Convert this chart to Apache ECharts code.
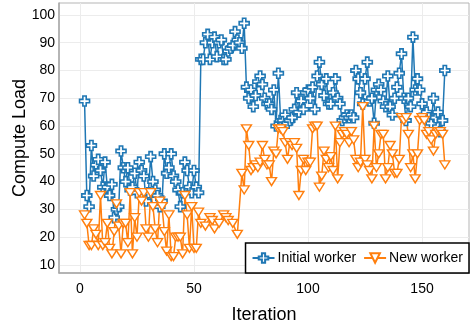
<!DOCTYPE html>
<html>
<head>
<meta charset="utf-8">
<script src="https://cdn.jsdelivr.net/npm/echarts@6/dist/echarts.min.js"></script>
<style>
html,body{margin:0;padding:0;background:#fff;}
#chart{width:471px;height:327px;}
</style>
</head>
<body>
<div id="chart"></div>
<script>
// Iterations start at 2 and run consecutively to 160
const firstIteration = 2;
const seriesNames = ['Initial worker', 'New worker'];
const xTicks = [0, 50, 100, 150];
const yTicks = [10, 20, 30, 40, 50, 60, 70, 80, 90, 100];

const initialLoad = [
  69,35,31,53,42,46,48,44,38,47, 38,35,39,27,30,31,51,45,40,45,
  37,38,43,36,47,44,42,33,36,49, 40,37,35,31,33,50,43,45,50,42,
  40,37,31,36,47,44,38,36,44,38, 36,
  84,84,90,93,84,90,92,85,90,91, 84,84,87,88,89,94,91,90,88,97,
  74,70,73,67,71,76,78,75,70,68, 68,66,73,60,79,62,62,64,61,62,
  63,66,72,65,69,66,72,73,70,74, 66,78,83,75,71,77,68,68,72,77,
  70,68,62,63,64,63,64,63,80,77, 72,68,77,83,69,70,61,73,75,73,
  69,67,78,67,64,70,74,79,86,70, 62,70,67,92,73,77,73,68,64,65,
  63,61,70,63,65,58,62,80
];

const newLoad = [
  28,25,17,17,23,21,17,35,17,18, 25,16,14,22,32,24,14,25,25,18,
  36,14,27,20,36,33,36,23,20,36, 31,23,18,33,31,22,15,28,13,13,
  20,20,20,14,35,28,16,31,16,16, 29,
  25,null,24,null,27,26,23,null,25,null, 28,27,26,null,25,null,21,null,43,37,
  59,
  53,44,45,46,45,47,53,48,46,46, 40,51,50,59,59,58,54,48,54,53,
  54,52,35,44,48,44,47,47,59,60, 60,38,42,51,48,45,49,44,60,41,
  54,57,58,57,54,58,55,48,45,47, 67,48,46,44,41,60,45,50,57,57,
  41,45,53,50,43,43,48,63,62,63, 57,45,50,41,50,62,63,62,57,58,
  55,51,57,58,58,57,46
];

const toPairs = vals => vals.map((v, i) => [firstIteration + i, v]);

const FONT = '"Liberation Sans", Arial, Helvetica, sans-serif';
const BLUE = '#1f77b4', ORANGE = '#ff7f0e';
const crossPath = 'path://M3,0H6V3H9V6H6V9H3V6H0V3H3Z';
const triPath = 'path://M0,0L10,0L5,8Z';

const chart = echarts.init(document.getElementById('chart'), null, {renderer: 'canvas'});
chart.setOption({
  animation: false,
  backgroundColor: '#fff',
  textStyle: {fontFamily: FONT},
  grid: {left: 59, right: 2, top: 3, bottom: 54, show: true, borderColor: '#b5b5b5', borderWidth: 1,
         containLabel: false, outerBoundsMode: 'none'},
  xAxis: {
    type: 'value', min: -9.2, max: 170.6,
    name: 'Iteration', nameLocation: 'middle', nameGap: 33, nameMoveOverlap: false,
    nameTextStyle: {fontSize: 18, color: '#000', fontFamily: FONT},
    axisLine: {show: true, onZero: false, lineStyle: {color: '#a8a8a8', width: 1.5}},
    axisTick: {show: false, customValues: xTicks},
    axisLabel: {fontSize: 14, color: '#000', margin: 9, customValues: xTicks},
    splitLine: {show: true, lineStyle: {color: '#ececec', width: 1}}
  },
  yAxis: {
    type: 'value', min: 7.1, max: 104.3,
    name: 'Compute Load', nameLocation: 'middle', nameGap: 30, nameMoveOverlap: false,
    nameTextStyle: {fontSize: 18, color: '#000', fontFamily: FONT},
    axisLine: {show: true, onZero: false, lineStyle: {color: '#a8a8a8', width: 1.5}},
    axisTick: {show: false, customValues: yTicks},
    axisLabel: {fontSize: 14, color: '#000', margin: 4, customValues: yTicks},
    splitLine: {show: true, lineStyle: {color: '#ececec', width: 1}}
  },
  legend: {
    right: 2, bottom: 54, orient: 'horizontal',
    data: seriesNames,
    borderColor: '#000', borderWidth: 1.5, backgroundColor: '#fff',
    padding: [8, 6], itemGap: 7, itemWidth: 22, itemHeight: 12,
    textStyle: {fontSize: 14, color: '#000', fontFamily: FONT, padding: [0, 0, 0, -2]}
  },
  series: [
    {
      name: seriesNames[0], type: 'line', data: toPairs(initialLoad),
      symbol: crossPath, symbolSize: 10, showAllSymbol: true,
      lineStyle: {color: BLUE, width: 1.5},
      itemStyle: {color: '#fff', borderColor: BLUE, borderWidth: 1.6},
      emphasis: {disabled: true}
    },
    {
      name: seriesNames[1], type: 'line', data: toPairs(newLoad), connectNulls: true,
      symbol: triPath, symbolSize: [10, 8], showAllSymbol: true,
      lineStyle: {color: ORANGE, width: 1.5},
      itemStyle: {color: '#fff', borderColor: ORANGE, borderWidth: 1.4},
      emphasis: {disabled: true}
    }
  ]
});
</script>
</body>
</html>
